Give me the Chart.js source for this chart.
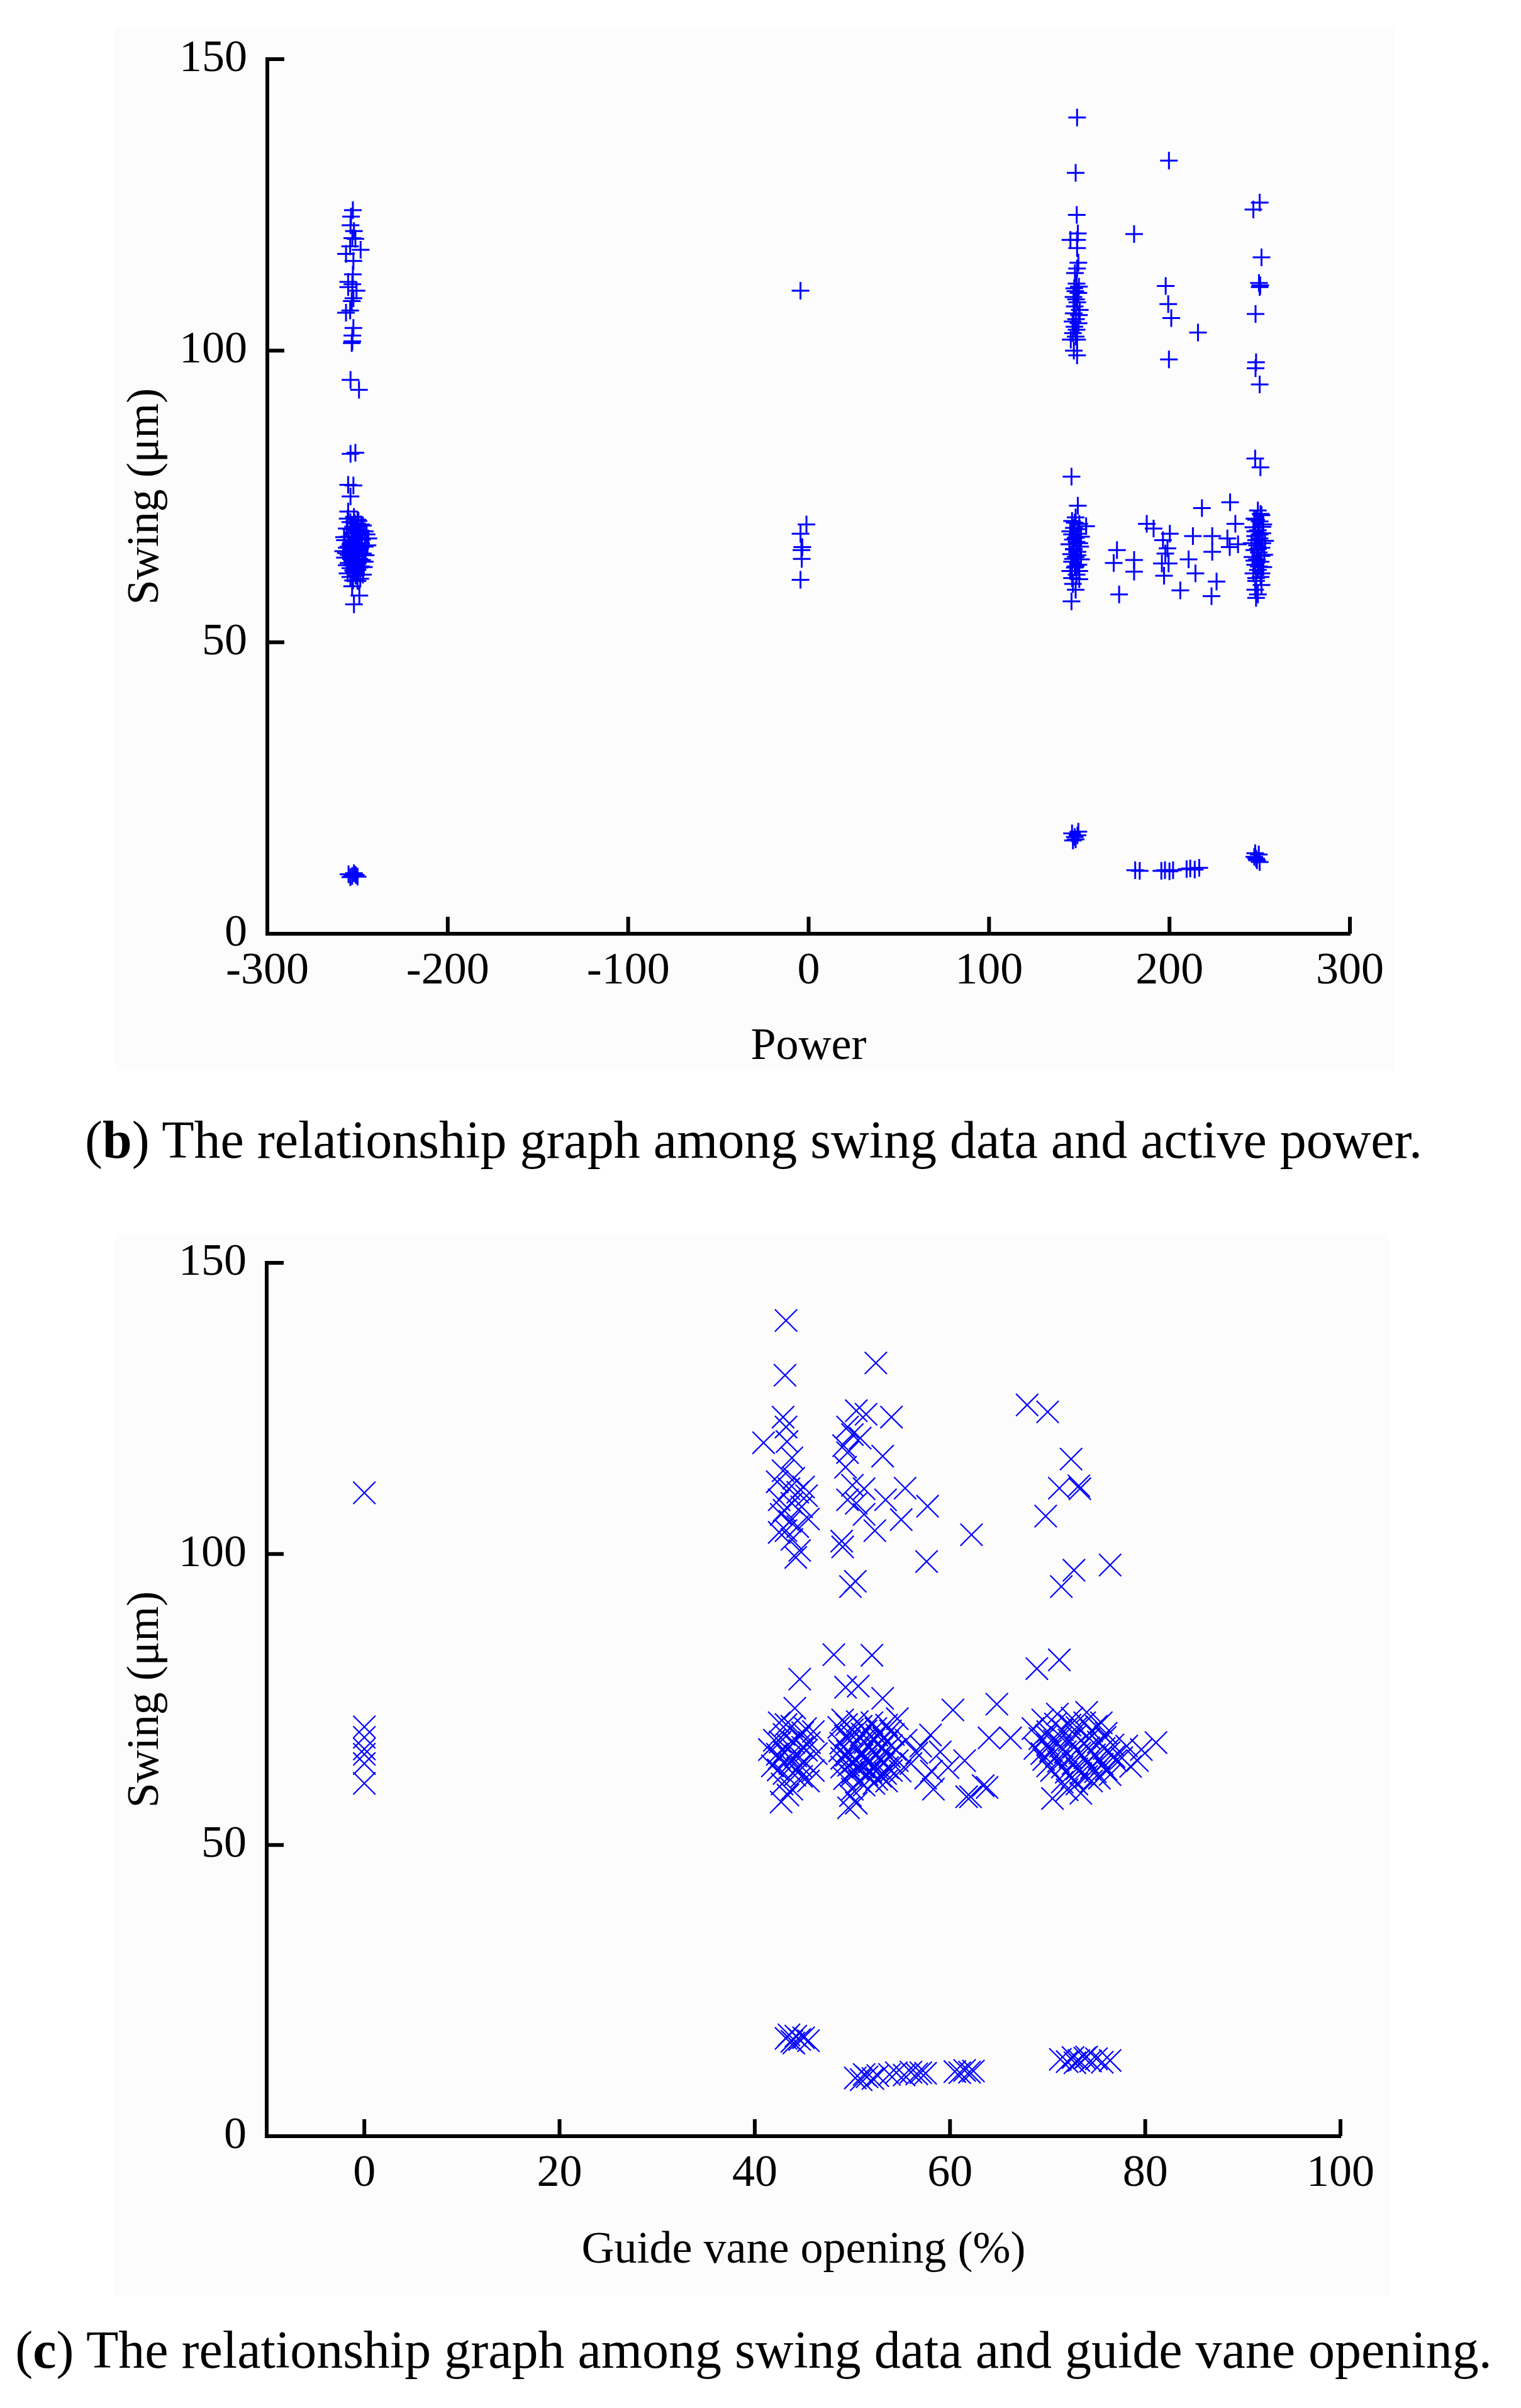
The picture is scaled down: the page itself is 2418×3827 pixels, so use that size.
<!DOCTYPE html>
<html>
<head>
<meta charset="utf-8">
<script src="https://cdn.jsdelivr.net/npm/chart.js@4/dist/chart.umd.min.js"></script>
<style>
  body { margin: 0; background: #fff; width: 2418px; height: 3827px; position: relative; overflow: hidden; font-family: "Liberation Serif", serif; }
  .panel { position: absolute; background: #fcfcfc; }
  canvas { position: absolute; left: 0; }
  .caption { position: absolute; left: 0; width: 2396px; text-align: center; font-size: 84px; line-height: 90px; color: #000; white-space: nowrap; }
</style>
</head>
<body>
<div class="panel" style="left:183px;top:44px;width:2033px;height:1657px"></div>
<div class="panel" style="left:183px;top:1960px;width:2025px;height:1689px"></div>
<canvas id="powerChart" width="2418" height="1760" style="top:0"></canvas>
<canvas id="vaneChart" width="2418" height="1760" style="top:1900px"></canvas>
<div class="caption" style="top:1767px">(<b>b</b>) The relationship graph among swing data and active power.</div>
<div class="caption" style="top:3690px">(<b>c</b>) The relationship graph among swing data and guide vane opening.</div>

<script>
// Tick values
const swingTicks = [0, 50, 100, 150];
const powerTicks = [-300, -200, -100, 0, 100, 200, 300];
const vaneTicks = [0, 20, 40, 60, 80, 100];

// (b) active power vs swing, [power, swing]
const bNegUpper = [[-252.6,124.1],[-253.6,123.0],[-253.9,121.5],[-252.0,120.5],[-252.9,119.3],[-251.2,119.2],[-254.1,117.9],[-248.3,117.3],[-256.4,116.6],[-252.3,115.4],[-252.6,113.1],[-255.2,111.8],[-252.9,111.4],[-255.2,110.9],[-250.6,110.3],[-252.3,109.0],[-253.2,108.5],[-254.1,106.9],[-256.4,106.5],[-252.3,103.9],[-252.9,102.6],[-252.9,101.6],[-253.2,101.3],[-253.9,95.0],[-249.2,93.3],[-253.9,82.3],[-251.2,82.5],[-255.2,77.0],[-252.3,76.9],[-253.9,75.0],[-255.2,72.4]];
const bNegCore = [[-252,71.5],[-250,71.0],[-254,70.6],[-248,70.2],[-252.5,69.8],[-256,69.5],[-250.5,69.2],[-246,69.0],[-253,68.7],[-249,68.4],[-255,68.1],[-251,67.9],[-244,67.8],[-257,67.5],[-252,67.3],[-248,67.0],[-254,66.8],[-250,66.6],[-246,66.4],[-256,66.2],[-252,66.0],[-249,65.8],[-258,65.6],[-253,65.4],[-247,65.2],[-255,65.0],[-251,64.8],[-257,64.5],[-249,64.3],[-253,64.0],[-246,63.8],[-255,63.6],[-251,63.3],[-248,63.0],[-254,62.7],[-250,62.4],[-252,62.0],[-247,61.6],[-254,61.2],[-250,60.5],[-253,59.6],[-249,58.0],[-252,56.5],
    [-255.5,71.2],[-249.5,70.8],[-251.5,70.4],[-247,70.0],[-253.5,69.4],[-249.5,68.9],[-245,68.5],[-251.5,68.2],[-257.5,68.0],[-247.5,67.6],[-253.5,67.1],[-250.5,66.9],[-244.5,66.6],[-255,66.4],[-248.5,66.1],[-252.5,65.7],[-256.5,65.3],[-250,65.1],[-245.5,64.9],[-254,64.6],[-247.5,64.1],[-251.5,63.9],[-256,63.2],[-249,62.8],[-252.5,62.3],[-246.5,62.9],[-255.5,61.8],[-251,61.4],[-248.5,60.9],[-252.5,60.6]];
const bNegLow = [[-255,10.2],[-253,9.9],[-251,10.1],[-254,9.7],[-252,10.4],[-250,9.8]];
const bZero = [[-4.5,110.3],[-1.2,70.2],[-4.5,68.6],[-3.5,66.3],[-4.0,65.8],[-3.8,64.3],[-4.5,60.7]];
const b150Upper = [[148.8,140.0],[148.0,130.5],[148.6,123.3],[149.2,120.1],[145.1,119.0],[148.8,119.0],[148.8,117.6],[149.5,115.1],[148.8,114.1],[147.6,113.3],[148.5,111.5],[147.2,110.7],[149.5,109.9],[146.8,109.2],[148.9,108.3],[147.5,107.6],[150.3,107.0],[146.9,106.4],[148.2,105.4],[149.6,104.7],[147.3,104.1],[148.5,103.6],[146.5,103.0],[148.8,101.9],[145.3,101.9],[147.0,100.0],[148.8,99.2],
    [149.8,111.0],[147.8,110.2],[148.2,108.8],[149.8,106.1],[146.3,105.0],[148.0,102.4]];
const b150Mid = [[145.7,78.4],[149.2,73.4],[153.8,69.9],[148,71.4],[146,70.8],[150,70.3],[147,69.6],[145,69.0],[149,68.6],[151,68.1],[146.5,67.6],[148.5,67.2],[144.5,66.8],[150.5,66.4],[147,66.0],[149,65.5],[145.5,65.1],[148,64.6],[151,64.2],[146,63.8],[149.5,63.3],[147.5,62.8],[145,62.2],[148.5,61.6],[150,60.8],[146.5,60.0],[148,59.0],[145.7,57.0],
    [147.5,70.5],[149.5,69.4],[146,68.5],[148,67.9],[150,67.0],[147,65.9],[149,64.9],[146.5,64.3],[148,63.0],[150,62.2],[146,61.0]];
const bScatter = [[180.4,120.0],[199.7,132.6],[197.9,111.1],[199.3,108.0],[201.0,105.6],[215.8,103.1],[199.7,98.5],[170.9,65.8],[169.1,63.6],[172.1,58.2],[180.4,64.1],[180.4,62.1],[187.4,70.3],[191.2,69.5],[196.4,67.5],[200.2,68.6],[198.9,66.1],[197.7,65.2],[195.8,63.5],[199.5,63.5],[197.0,61.4],[213.0,68.2],[218.0,73.0],[210.6,64.2],[214.4,61.8],[206.0,58.9],[223.7,68.2],[223.7,65.5],[226.1,60.4],[223.3,57.9],[233.6,74.0],[236.5,70.3],[232.1,67.8],[233.4,66.3],[238.0,66.8]];
const b250Upper = [[250.0,125.4],[246.5,124.2],[251.0,116.0],[249.6,111.6],[250.0,110.9],[250.3,111.2],[247.7,106.3],[248.0,98.0],[247.7,97.0],[250.0,94.2],[247.5,81.5],[250.4,80.0]];
const b250Mid = [[249,72.6],[251,71.8],[247,71.2],[250,70.7],[252,70.2],[246.5,69.7],[249,69.2],[251.5,68.7],[247.5,68.2],[250,67.8],[253,67.4],[245.5,67.0],[248.5,66.6],[251,66.2],[247,65.8],[249.5,65.4],[252.5,65.0],[246,64.6],[248.5,64.2],[250.5,63.8],[247.5,63.3],[252,62.9],[249,62.4],[246.5,61.8],[250.5,61.2],[248,60.5],[251,59.8],[247.5,59.0],[249,58.2],[248,57.6],
    [250.5,72.0],[248,71.0],[251.5,69.8],[247.5,69.0],[250,68.5],[248,67.5],[251.5,67.0],[249,66.0],[251,64.8],[247,64.0],[249.5,63.0],[251,61.8],[248,61.0]];
const bLow = [[146,17.2],[147.5,16.6],[149,16.9],[148,16.2],[146.5,16.0],[149.5,17.5],[181,10.9],[183.5,10.8],[195.5,10.8],[197.5,10.9],[200,10.7],[202,10.9],[209.5,11.1],[211.5,11.2],[214,11.0],[216.5,11.3],[247,13.2],[248.5,12.6],[249.5,13.6],[248,12.9],[250,12.3],[247.5,13.8]];

// (c) guide vane opening vs swing, [opening, swing]
const cZero = [[0,110.5],[0,70.3],[0,68.5],[0,66.5],[0,65.6],[0,64.0],[0,60.6]];
const c44Upper = [[43.2,140.1],[43.1,130.7],[42.9,123.5],[40.9,119.1],[43.2,121.8],[43.3,119.3],[43.8,116.5],[42.9,114.3],[42.3,112.4],[43.5,111.2],[44.4,110.6],[45.3,110.0],[42.5,109.3],[43.8,108.7],[44.8,108.1],[42.7,106.8],[43.6,105.6],[44.4,104.7],[42.5,103.7],[43.8,102.5],[44.6,100.6],[44.2,99.4],[44.0,113.0],[45.0,111.5],[43.0,107.5],[45.5,106.0],[43.2,104.0]];
const c50Upper = [[52.4,132.8],[50.4,124.6],[51.4,124.0],[54.0,123.5],[49.5,121.8],[50.0,120.5],[50.8,119.9],[49.1,118.6],[49.5,117.4],[53.1,116.8],[49.3,114.9],[50.0,111.8],[51.2,111.2],[49.5,109.3],[50.4,108.7],[53.4,109.3],[55.4,111.3],[57.7,108.2],[51.2,106.8],[55.0,105.9],[52.3,104.0],[62.2,103.3],[48.9,102.2],[49.0,101.2],[57.6,98.7],[49.8,94.4],[50.3,95.3]];
const c72Upper = [[67.9,125.6],[70.0,124.4],[72.4,116.3],[71.2,111.3],[73.2,111.7],[73.3,111.2],[69.8,106.5],[72.7,97.2],[71.4,94.4],[76.4,98.1]];
const c44Mid = [[44.6,78.5],[44.1,73.5],[42.5,71.0],[43.8,70.4],[45.2,70.0],[46.0,69.5],[43.0,69.0],[44.6,68.6],[42.0,68.0],[45.6,67.6],[43.4,67.2],[44.9,66.8],[41.5,66.4],[43.0,66.0],[46.3,65.7],[44.2,65.3],[42.5,64.9],[45.0,64.4],[43.6,64.0],[41.8,63.6],[44.4,63.2],[46.0,62.8],[43.0,62.3],[44.8,61.8],[42.8,60.5],[43.8,59.6],[42.7,57.4],
    [43.2,70.7],[44.9,69.3],[42.6,67.7],[44.0,67.6],[45.3,66.3],[42.3,65.6],[43.5,65.1],[44.7,63.6],[42.4,62.9],[44.1,62.0],[45.5,61.0],[43.4,58.6]];
const c51Mid = [[48.1,82.7],[52.0,82.6],[49.3,77.1],[50.6,77.3],[53.1,75.2],[54.6,71.7],[49.0,71.5],[50.5,71.2],[52.0,71.0],[53.5,70.6],[48.6,70.2],[50.0,69.8],[51.4,69.6],[52.8,69.3],[54.2,69.0],[49.3,68.7],[50.8,68.4],[52.2,68.1],[53.6,67.8],[48.8,67.5],[50.2,67.2],[51.6,67.0],[53.0,66.7],[54.4,66.4],[49.5,66.1],[51.0,65.8],[52.4,65.5],[53.8,65.2],[48.9,64.9],[50.3,64.6],[51.8,64.3],[53.2,64.0],[49.6,63.7],[51.1,63.4],[52.6,63.1],[54.0,62.8],[50.0,62.5],[51.5,62.1],[52.9,61.8],[49.2,61.4],[50.7,61.0],[52.2,60.6],[50.0,59.6],[49.8,58.5],[50.4,57.2],[49.6,56.4],
    [49.4,70.7],[50.9,70.4],[52.4,70.0],[53.9,69.6],[51.0,69.1],[49.9,68.9],[52.5,68.9],[53.2,68.3],[49.7,67.9],[51.3,67.6],[52.7,67.4],[54.0,67.1],[50.5,66.7],[52.0,66.4],[48.7,66.2],[53.3,66.0],[50.9,65.3],[49.4,65.4],[52.9,64.8],[51.4,64.7],[50.0,64.2],[54.6,64.5],[52.3,63.6],[48.9,63.4],[53.6,63.3],[50.6,63.0],[51.9,62.6],[53.4,62.3],[49.9,61.9],[52.5,61.3],[51.2,60.3],[53.5,61.0]];
const cMidScatter = [[58.0,68.9],[56.6,65.8],[58.3,59.6],[61.5,64.5],[61.7,58.3],[63.4,60.2],[59.8,63.3],[54.9,62.7],[58.1,62.7],[60.3,73.2],[55.5,68.0],[57.0,67.0],[56.0,64.0],[59.0,66.0],[57.5,61.5],[64.8,74.2],[64.0,68.4],[66.2,68.4],[62.1,58.3],[63.8,59.9]];
const c73Mid = [[68.9,80.3],[71.2,81.8],[69.5,71.5],[71.0,72.5],[72.5,71.8],[74.0,72.8],[75.5,71.0],[68.5,70.0],[70.0,69.5],[71.5,69.8],[73.0,70.2],[74.5,69.6],[76.0,69.2],[69.2,68.3],[70.7,67.9],[72.2,68.0],[73.7,67.5],[75.2,67.7],[76.7,67.2],[68.7,66.6],[70.3,66.2],[71.8,66.0],[73.3,65.8],[74.8,65.5],[76.3,65.9],[69.6,64.7],[71.1,64.4],[72.6,64.0],[74.1,64.2],[75.6,63.9],[77.0,64.5],[70.4,62.8],[71.9,62.5],[73.4,62.3],[74.9,62.6],[76.4,62.1],[71.5,60.8],[73.0,60.5],[74.5,61.0],[70.5,58.0],[73.4,58.9],[72.0,59.5],[81.1,67.6],[79.6,66.4],[79.2,64.5],[78.1,67.0],[77.6,65.0],[78.5,63.5],
    [70.8,70.8],[72.3,70.6],[73.8,71.0],[75.0,70.4],[69.9,68.8],[71.4,68.5],[72.9,68.8],[74.3,68.3],[75.9,68.5],[70.0,67.3],[71.3,67.0],[72.7,66.8],[74.2,66.7],[75.8,66.6],[69.4,65.7],[70.9,65.3],[72.3,65.1],[73.8,65.0],[75.3,64.8],[76.8,65.2],[70.0,63.6],[71.5,63.4],[73.0,63.1],[74.5,63.3],[76.0,63.0],[72.5,61.6],[74.0,61.8],[75.3,61.5]];
const cLow = [[43.2,16.8],[43.8,16.3],[44.2,17.2],[44.6,16.6],[45.0,16.9],[45.5,16.4],[44.0,16.0],[43.5,17.4],[50.3,10.0],[50.9,9.7],[51.5,10.2],[52.1,9.9],[52.6,10.4],[51.2,10.6],[53.8,10.6],[54.5,10.9],[55.3,10.5],[56.0,11.0],[56.6,10.7],[57.0,10.9],[57.5,10.8],[60.5,11.1],[61.0,10.9],[61.5,11.3],[62.0,11.0],[62.4,11.2],[71.3,13.2],[72.0,12.8],[72.6,13.5],[73.2,13.0],[73.8,13.4],[74.4,12.9],[75.0,13.3],[75.6,12.7],[76.4,13.0],[72.8,12.6],[74.0,13.6]];

Chart.defaults.font.family = '"Liberation Serif", "Times New Roman", serif';
Chart.defaults.color = '#000';

// Draw ticks pointing into the plot area
const innerTicks = {
    id: 'innerTicks',
    afterDraw(chart) {
        const {ctx, chartArea, scales} = chart;
        ctx.save();
        ctx.strokeStyle = '#000';
        ctx.lineWidth = 6;
        ctx.beginPath();
        scales.x.ticks.forEach(t => {
            const px = scales.x.getPixelForValue(t.value);
            ctx.moveTo(px, chartArea.bottom);
            ctx.lineTo(px, chartArea.bottom - 27);
        });
        scales.y.ticks.forEach(t => {
            const py = scales.y.getPixelForValue(t.value);
            ctx.moveTo(chartArea.left, py);
            ctx.lineTo(chartArea.left + 27, py);
        });
        ctx.stroke();
        ctx.restore();
    }
};

function toPoints(groups) {
    return groups.flat().map(p => ({x: p[0], y: p[1]}));
}

function makeChart(id, cfg) {
    const ctx = document.getElementById(id).getContext('2d');
    return new Chart(ctx, {
        type: 'scatter',
        data: {
            datasets: [{
                data: cfg.points,
                pointStyle: cfg.pointStyle,
                pointRadius: cfg.radius,
                pointBorderWidth: cfg.lineWidth,
                borderColor: '#0000ff',
                backgroundColor: '#0000ff'
            }]
        },
        options: {
            responsive: false,
            animation: false,
            events: [],
            layout: { padding: cfg.padding },
            plugins: { legend: { display: false }, tooltip: { enabled: false } },
            scales: {
                x: {
                    type: 'linear',
                    min: cfg.xMin,
                    max: cfg.xMax,
                    afterBuildTicks: s => { s.ticks = cfg.xTicks.map(v => ({value: v})); },
                    afterFit: s => { s.height = cfg.xHeight; },
                    grid: { display: true, drawOnChartArea: false, drawTicks: false },
                    border: { display: true, color: '#000', width: 6 },
                    ticks: { color: '#000', padding: 24, maxRotation: 0, autoSkip: false, font: { size: 72, lineHeight: 1 } },
                    title: { display: true, text: cfg.xTitle, color: '#000', font: { size: 72, lineHeight: 1 }, padding: { top: 0, bottom: cfg.xTitlePad } }
                },
                y: {
                    type: 'linear',
                    min: 0,
                    max: 150,
                    afterBuildTicks: s => { s.ticks = swingTicks.map(v => ({value: v})); },
                    afterFit: s => { s.width = cfg.yWidth; },
                    grid: { display: true, drawOnChartArea: false, drawTicks: false },
                    border: { display: true, color: '#000', width: 6 },
                    ticks: { color: '#000', padding: 32, font: { size: 72, lineHeight: 1 } },
                    title: { display: true, text: 'Swing (μm)', color: '#000', font: { size: 72, lineHeight: 1 }, padding: { top: 196, bottom: 0 } }
                }
            }
        },
        plugins: [innerTicks]
    });
}

makeChart('powerChart', {
    points: toPoints([bNegUpper, bNegCore, bNegLow, bZero, b150Upper, b150Mid, bScatter, b250Upper, b250Mid, bLow]),
    pointStyle: 'cross',
    radius: 14,
    lineWidth: 3,
    padding: { left: 0, top: 94, right: 272, bottom: 0 },
    xMin: -300, xMax: 300, xTicks: powerTicks,
    xHeight: 276, yWidth: 425,
    xTitle: 'Power', xTitlePad: 60
});

makeChart('vaneChart', {
    points: toPoints([cZero, c44Upper, c50Upper, c72Upper, c44Mid, c51Mid, cMidScatter, c73Mid, cLow]),
    pointStyle: 'crossRot',
    radius: 25,
    lineWidth: 2.2,
    padding: { left: 0, top: 107, right: 287, bottom: 0 },
    xMin: -10, xMax: 100, xTicks: vaneTicks,
    xHeight: 265, yWidth: 424,
    xTitle: 'Guide vane opening (%)', xTitlePad: 47
});
</script>
</body>
</html>
